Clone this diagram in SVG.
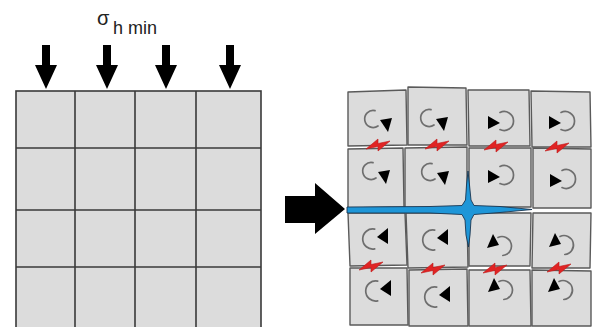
<svg xmlns="http://www.w3.org/2000/svg" width="592" height="327" viewBox="0 0 592 327">
  <style>
    .grid { fill: #dcdcdc; stroke: #3a3a3a; stroke-width: 1.6; }
    .gline { stroke: #3a3a3a; stroke-width: 1.6; fill: none; }
    .tile { fill: #dcdcdc; stroke: #5a5a5a; stroke-width: 1.4; stroke-linejoin: round; }
    .arc { fill: none; stroke: #6e6e6e; stroke-width: 1.7; stroke-linecap: round; }
    .tri { fill: #000; }
    .bolt { fill: #e02424; stroke: #c01a1a; stroke-width: 0.6; stroke-linejoin: round; }
    .crack { fill: #1e96d8; stroke: #1a3550; stroke-width: 0.9; stroke-linejoin: round; }
    .label { font-family: "Liberation Sans", Arial, sans-serif; fill: #222; }
  </style>
  <defs>
    <!-- counter-clockwise arc, arrowhead low right (upper rows, left half) -->
    <g id="rotA">
      <path class="arc" d="M2,-8.3 A8.5,8.5 0 1 0 5,7"/>
      <polygon class="tri" points="7,1 19,-1 15,13"/>
    </g>
    <!-- clockwise arc, arrowhead on the left (upper rows, right half) -->
    <g id="rotB">
      <path class="arc" d="M-4,-8.6 A9.5,9.5 0 1 1 -4,8.6"/>
      <polygon class="tri" points="-16,-5 -16,8 -4,2"/>
    </g>
    <!-- counter-clockwise arc, arrowhead upper right (lower rows, left half) -->
    <g id="rotC">
      <path class="arc" d="M1.7,-9.8 A10,10 0 1 0 1.7,9.8"/>
      <polygon class="tri" points="4,-2 15,-11 15,5"/>
    </g>
    <!-- clockwise arc, arrowhead upper left (lower rows, right half) -->
    <g id="rotD">
      <path class="arc" d="M-4,-8.6 A9.5,9.5 0 1 1 0.8,9.5"/>
      <polygon class="tri" points="-9,-12 -15,2 -3,-1"/>
    </g>
    <polygon id="bolt" class="bolt" points="-12,4 0,-6 0,-1.5 12,-4 0,6 0,1.5"/>
  </defs>

  <rect width="592" height="327" fill="#fff"/>

  <!-- load label -->
  <g id="label">
    <text class="label" x="97" y="25" font-size="20">σ</text>
    <text class="label" x="113" y="34" font-size="18">h min</text>
  </g>

  <!-- intact block -->
  <g id="block-left">
    <rect class="grid" x="16" y="91" width="245" height="245"/>
    <path class="gline" d="M75,91V327 M135,91V327 M196,91V327 M16,148H261 M16,210H261 M16,267H261"/>
  </g>

  <!-- fractured block -->
  <g id="t00"><polygon class="tile" points="348,92 406,90 407,145 348,146"/><use href="#rotA" x="373" y="119"/></g>
  <g id="t01"><polygon class="tile" points="408,87 466,88 467,145 408,145"/><use href="#rotA" x="429" y="118"/></g>
  <g id="t02"><polygon class="tile" points="468,90 529,90 530,146 469,146"/><use href="#rotB" x="504" y="121"/></g>
  <g id="t03"><polygon class="tile" points="531,91 590,92 591,147 532,147"/><use href="#rotB" x="565" y="121"/></g>

  <g id="t10"><polygon class="tile" points="348,149 403,148 404,207 348,208"/><use href="#rotA" x="371" y="171"/></g>
  <g id="t11"><polygon class="tile" points="405,148 467,147 467,207 405,208"/><use href="#rotA" x="430" y="172"/></g>
  <g id="t12"><polygon class="tile" points="469,148 531,148 531,207 469,207"/><use href="#rotB" x="504" y="175"/></g>
  <g id="t13"><polygon class="tile" points="533,148 591,149 591,208 533,208"/><use href="#rotB" x="566" y="179"/></g>

  <g id="t20"><polygon class="tile" points="348,213 405,213 407,265 350,266"/><use href="#rotC" x="373" y="239"/></g>
  <g id="t21"><polygon class="tile" points="406,213 467,213 468,267 408,268"/><use href="#rotC" x="433" y="240"/></g>
  <g id="t22"><polygon class="tile" points="469,213 531,213 530,266 469,266"/><use href="#rotD" x="502" y="246"/></g>
  <g id="t23"><polygon class="tile" points="533,213 591,213 590,268 532,268"/><use href="#rotD" x="564" y="245"/></g>

  <g id="t30"><polygon class="tile" points="350,268 407,268 408,325 350,325"/><use href="#rotC" x="376" y="291"/></g>
  <g id="t31"><polygon class="tile" points="409,270 467,269 468,326 409,326"/><use href="#rotC" x="435" y="297"/></g>
  <g id="t32"><polygon class="tile" points="469,270 530,270 531,326 469,326"/><use href="#rotD" x="503" y="290"/></g>
  <g id="t33"><polygon class="tile" points="532,270 591,271 591,326 532,326"/><use href="#rotD" x="563" y="290"/></g>

  <!-- shear contacts between tiles -->
  <g id="contacts">
    <use href="#bolt" x="378" y="145"/>
    <use href="#bolt" x="437" y="145"/>
    <use href="#bolt" x="496" y="146"/>
    <use href="#bolt" x="557" y="147"/>
    <use href="#bolt" x="371" y="266"/>
    <use href="#bolt" x="433" y="269"/>
    <use href="#bolt" x="495" y="269"/>
    <use href="#bolt" x="559" y="268"/>
  </g>

  <!-- opened fracture -->
  <g id="crack">
    <polygon class="crack" points="347,207 430,206.5 462,205.5 465.5,200 466.5,185 468,171 469.5,185 471,200 474,205.5 500,206.5 532,209.5 500,212.5 474,214.5 471,220 470,235 468.5,247 466,235 465,220 462,214.5 430,213 347,213"/>
  </g>

  <g id="connectors">
    <!-- applied load arrows -->
    <polygon points="42,45 50,45 50,65 57,65 46,89 35,65 42,65" fill="#000"/>
    <polygon points="103,45 111,45 111,65 118,65 107,89 96,65 103,65" fill="#000"/>
    <polygon points="162,45 170,45 170,65 177,65 166,89 155,65 162,65" fill="#000"/>
    <polygon points="226,45 234,45 234,65 241,65 230,89 219,65 226,65" fill="#000"/>
    <!-- transition arrow -->
    <polygon points="285,196 315,196 315,183 345,209 315,234 315,223 285,223" fill="#000"/>
  </g>
</svg>
